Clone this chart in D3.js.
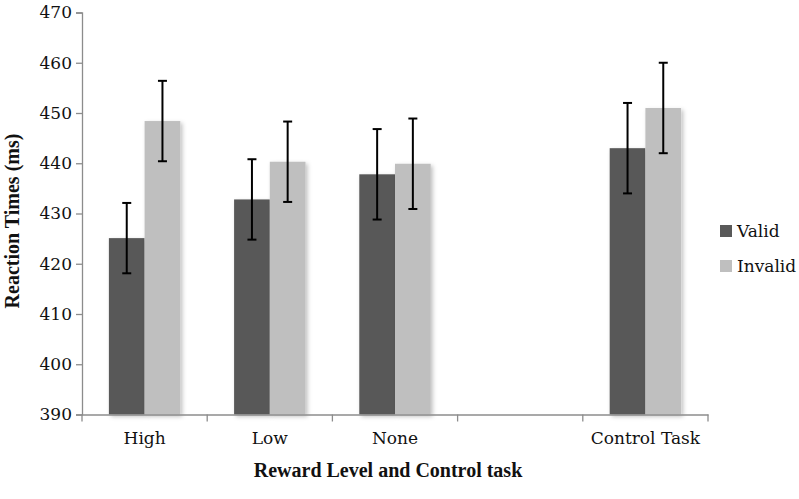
<!DOCTYPE html>
<html>
<head>
<meta charset="utf-8">
<script src="https://cdn.jsdelivr.net/npm/d3@7"></script>
<style>
  html, body { margin: 0; padding: 0; background: #fff; }
  svg { display: block; }
</style>
</head>
<body>
<script>
const categories = ["High", "Low", "None", " ", "Control Task"];
const seriesNames = ["Valid", "Invalid"];
const validValues = [425.1, 432.8, 437.8, null, 443.0];
const invalidValues = [448.4, 440.3, 439.9, null, 451.0];
const validErrors = [7, 8, 9, null, 9];
const invalidErrors = [8, 8, 9, null, 9];
const yTicks = [390, 400, 410, 420, 430, 440, 450, 460, 470];

const W = 799, H = 499;
const margin = { top: 12.5, right: 91, bottom: 84.5, left: 82 };
const colors = { Valid: "#595959", Invalid: "#bfbfbf" };
const serifFont = "'DejaVu Serif', serif";
const titleFont = "'Liberation Serif', 'Times New Roman', serif";

const svg = d3.select("body").append("svg").attr("width", W).attr("height", H);

const defs = svg.append("defs");
const f = defs.append("filter").attr("id", "shadow").attr("x", "-20%").attr("y", "-5%").attr("width", "150%").attr("height", "115%");
f.append("feDropShadow").attr("dx", 2).attr("dy", 2).attr("stdDeviation", 2)
  .attr("flood-color", "#000").attr("flood-opacity", 0.25);

const x0 = d3.scaleBand().domain(categories).range([margin.left, W - margin.right]).paddingInner(0).paddingOuter(0);
const x1 = d3.scaleBand().domain(seriesNames).range([0, x0.bandwidth()]).paddingInner(0).paddingOuter(0.753);
const y = d3.scaleLinear().domain([390, 470]).range([H - margin.bottom, margin.top]);

const rows = [];
categories.forEach((c, i) => {
  if (validValues[i] != null) rows.push({ cat: c, s: "Valid", v: validValues[i], e: validErrors[i] });
  if (invalidValues[i] != null) rows.push({ cat: c, s: "Invalid", v: invalidValues[i], e: invalidErrors[i] });
});

// bars
svg.append("g").selectAll("rect").data(rows).join("rect")
  .attr("x", d => x0(d.cat) + x1(d.s))
  .attr("y", d => y(d.v))
  .attr("width", x1.bandwidth())
  .attr("height", d => y(390) - y(d.v))
  .attr("fill", d => colors[d.s])
  .attr("filter", "url(#shadow)");

// error bars
const eg = svg.append("g").attr("stroke", "#000").attr("stroke-width", 2).attr("fill", "none");
rows.forEach(d => {
  const cx = x0(d.cat) + x1(d.s) + x1.bandwidth() / 2;
  eg.append("line").attr("x1", cx).attr("x2", cx).attr("y1", y(d.v + d.e)).attr("y2", y(d.v - d.e));
  eg.append("line").attr("x1", cx - 4.5).attr("x2", cx + 4.5).attr("y1", y(d.v + d.e)).attr("y2", y(d.v + d.e));
  eg.append("line").attr("x1", cx - 4.5).attr("x2", cx + 4.5).attr("y1", y(d.v - d.e)).attr("y2", y(d.v - d.e));
});

// y axis
const yAxis = svg.append("g").attr("transform", `translate(${margin.left},0)`)
  .call(d3.axisLeft(y).tickValues(yTicks).tickSize(6).tickPadding(4).tickFormat(d3.format("d")));
yAxis.select(".domain").attr("stroke", "#8c8c8c").attr("stroke-width", 1.3);
yAxis.selectAll(".tick line").attr("stroke", "#8c8c8c").attr("stroke-width", 1.3);
yAxis.selectAll("text").attr("font-family", serifFont).attr("font-size", 17).attr("fill", "#111");

// x axis
const xAxis = svg.append("g").attr("transform", `translate(0,${y(390)})`)
  .call(d3.axisBottom(x0).tickSize(0).tickPadding(0).tickSizeOuter(0));
xAxis.select(".domain").attr("stroke", "#8c8c8c").attr("stroke-width", 1.3);
xAxis.selectAll("text").attr("font-family", serifFont).attr("font-size", 17).attr("fill", "#111")
  .attr("dy", null).attr("y", 29);
const bounds = categories.map(c => x0(c)).concat([x0.range()[1]]);
xAxis.selectAll(".bound").data(bounds).join("line").attr("class", "bound")
  .attr("x1", d => d).attr("x2", d => d).attr("y1", 0).attr("y2", 7)
  .attr("stroke", "#8c8c8c").attr("stroke-width", 1.3);

// axis titles
svg.append("text")
  .attr("x", (margin.left + W - margin.right) / 2 - 7).attr("y", 477)
  .attr("text-anchor", "middle").attr("font-family", titleFont).attr("font-weight", "bold")
  .attr("font-size", 20).attr("fill", "#111").text("Reward Level and Control task");
svg.append("text")
  .attr("transform", "translate(19,221) rotate(-90)")
  .attr("text-anchor", "middle").attr("font-family", titleFont).attr("font-weight", "bold")
  .attr("font-size", 20).attr("fill", "#111").text("Reaction Times (ms)");

// legend
const lg = svg.append("g").attr("transform", "translate(720,0)");
seriesNames.forEach((s, i) => {
  const cy = 231 + i * 35;
  lg.append("rect").attr("x", 0).attr("y", cy - 6).attr("width", 12).attr("height", 12).attr("fill", colors[s]);
  lg.append("text").attr("x", 17).attr("y", cy).attr("dy", "0.35em")
    .attr("font-family", serifFont).attr("font-size", 17).attr("fill", "#111").text(s);
});
</script>
</body>
</html>
